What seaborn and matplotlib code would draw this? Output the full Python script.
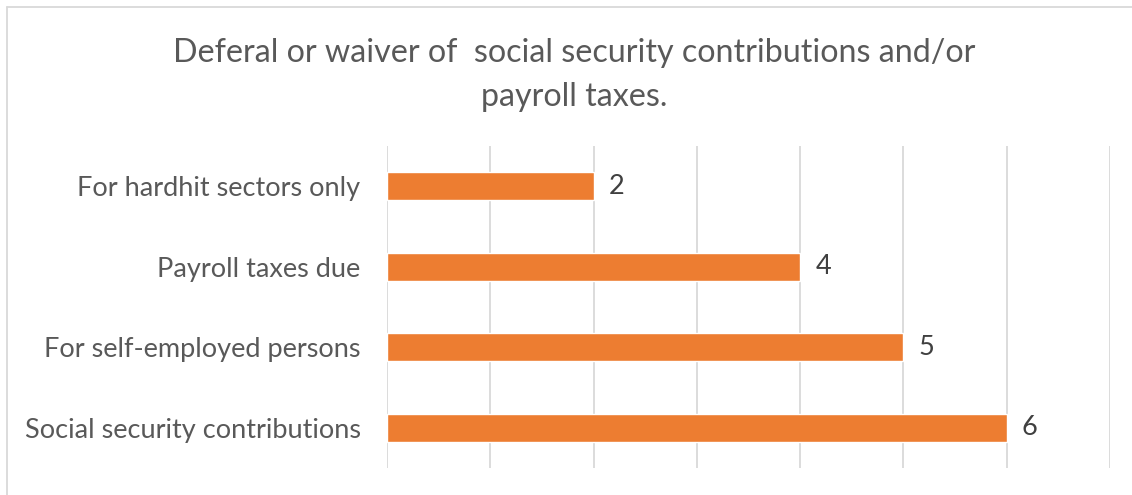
import matplotlib
matplotlib.use("Agg")
import matplotlib.pyplot as plt
import seaborn as sns
import pandas as pd
from matplotlib.lines import Line2D

categories = ["For hardhit sectors only", "Payroll taxes due",
              "For self-employed persons", "Social security contributions"]
values = [2, 4, 5, 6]
title = "Deferal or waiver of  social security contributions and/or\npayroll taxes."

sns.set_theme(style="white")
plt.rcParams['font.family'] = ['Lato', 'DejaVu Sans']

df = pd.DataFrame({"category": categories, "value": values})

W, H = 1132, 495
fig = plt.figure(figsize=(W / 100, H / 100), dpi=100)
ax = fig.add_axes([387 / W, (H - 468) / H, (1110 - 387) / W, (468 - 146) / H])

sns.barplot(data=df, x="value", y="category", color="#ED7D31", width=0.35,
            saturation=1, ax=ax, orient="h")

ax.set_xlim(0, 7)
ax.set_xticks(range(0, 8))
ax.xaxis.grid(True, color="#D9D9D9", linewidth=1.3)
ax.set_axisbelow(True)
ax.tick_params(axis="x", labelbottom=False, length=0)
ax.tick_params(axis="y", length=0, pad=19, labelsize=19.5, labelcolor="#595959")
for s in ax.spines.values():
    s.set_visible(False)
ax.set_xlabel("")
ax.set_ylabel("")

for c in ax.containers:
    ax.bar_label(c, labels=[str(v) for v in values], padding=11, fontsize=19.5, color="#404040")

fig.text(574 / W, 1 - 75 / H, title, ha="center", va="center", fontsize=23.2,
         color="#595959", linespacing=1.55)

# chart border (left and top visible)
fig.add_artist(Line2D([6.5 / W, 6.5 / W], [0, 1 - 6.5 / H], transform=fig.transFigure,
                      color="#D9D9D9", linewidth=1.3))
fig.add_artist(Line2D([6.5 / W, 1], [1 - 6.5 / H, 1 - 6.5 / H], transform=fig.transFigure,
                      color="#D9D9D9", linewidth=1.3))

fig.savefig("out.png", dpi=100, facecolor="white")
